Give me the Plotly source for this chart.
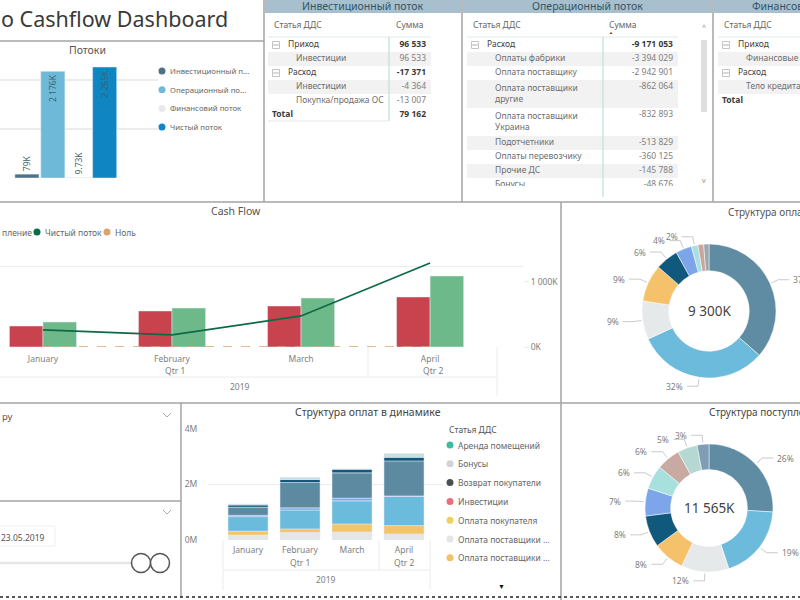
import numpy as np
import plotly.graph_objects as go

W, H = 800, 600
FONT = "Noto Sans"
GRID = "#ececec"
BORDER = "#a3a3a3"
DIV = "#ececec"
TXT = "#666666"

# Потоки
flow_names = ["Инвестиционный п...", "Операционный по...", "Финансовий поток", "Чистый поток"]
flow_values = [79, 2176, 9.73, 2265]
flow_labels = ["79K", "2 176K", "9.73K", "2 265K"]
flow_colors = ["#4f7288", "#6fb9d8", "#e8e9ea", "#0f86c1"]

# Cash Flow
months = ["January", "February", "March", "April"]
cash_out = [262, 450, 512, 625]
cash_in = [312, 487, 612, 887]
cash_net = [262, 185, 477, 1292]
cash_zero = [0, 0, 0, 0]

# Структура оплат в динамике (bottom to top)
stack_grey = [0.18, 0.27, 0.29, 0.22]
stack_yellow = [0.14, 0.13, 0.29, 0.30]
stack_blue = [0.52, 0.68, 0.83, 1.05]
stack_peri = [0.05, 0.08, 0.10, 0.02]
stack_steel = [0.29, 0.91, 0.91, 1.26]
stack_navy = [0.08, 0.11, 0.13, 0.13]
stack_light = [0.04, 0.08, 0.01, 0.14]
stack_colors = ["#e4e6e7", "#f3c468", "#6bbbdd", "#7fa8e8", "#5d8aa1", "#11587d", "#c5dfe4"]
dyn_legend = ["Аренда помещений", "Бонусы", "Возврат покупатели", "Инвестиции",
              "Оплата покупателя", "Оплата поставщики ...", "Оплата поставщики ..."]
dyn_colors = ["#3fbb9e", "#cfd3d5", "#4a4f52", "#e86f7c", "#f0cf5b", "#e3e5e6", "#f0c26a"]

# donuts
pay_values = [3394, 2943, 862, 833, 514, 360, 146, 130, 118]
pay_labels = ["37%", "32%", "9%", "9%", "6%", "4%", "2%", "", ""]
pay_colors = ["#5f8ca3", "#6dbbdc", "#e6e9ea", "#f5c26b", "#11587d", "#7da6ea", "#a8dfe0", "#c8a7a0", "#9aa7ad"]
inc_values = [3007, 2197, 1388, 925, 925, 810, 694, 694, 578, 347]
inc_labels = ["26%", "19%", "12%", "8%", "8%", "7%", "6%", "6%", "5%", "3%"]
inc_colors = ["#5f8ca3", "#6dbbdc", "#e6e9ea", "#f5c26b", "#11587d", "#7da6ea", "#a8e0dd", "#c8aaa2", "#b6d8d2", "#7f9db5"]

# tables
inv_rows = ["Приход", "Инвестиции", "Расход", "Инвестиции", "Покупка/продажа ОС"]
inv_sums = ["96 533", "96 533", "-17 371", "-4 364", "-13 007"]
inv_levels = [0, 1, 0, 1, 1]
inv_lines = [1, 1, 1, 1, 1]

op_rows = ["Расход", "Оплаты фабрики", "Оплата поставщику", "Оплата поставщики<br>другие",
           "Оплата поставщики<br>Украина", "Подотчетники", "Оплаты перевозчику", "Прочие ДС", "Бонусы"]
op_sums = ["-9 171 053", "-3 394 029", "-2 942 901", "-862 064", "-832 893",
           "-513 829", "-360 125", "-145 788", "-48 676"]
op_levels = [0, 1, 1, 1, 1, 1, 1, 1, 1]
op_lines = [1, 1, 1, 2, 2, 1, 1, 1, 1]

fin_rows = ["Приход", "Финансовые", "Расход", "Тело кредита"]
fin_sums = ["", "", "", ""]
fin_levels = [0, 1, 0, 1]
fin_lines = [1, 1, 1, 1]


def X(p):
    return p / W


def Y(p):
    return 1 - p / H


fig = go.Figure()
shapes = []
notes = []


def note(x, y, text, size=8.5, color=TXT, anchor="left", **kw):
    notes.append(dict(x=X(x), y=Y(y), xref="paper", yref="paper", text=text, showarrow=False,
                      xanchor=anchor, yanchor="middle", font=dict(size=size, color=color), **kw))


def line(x0, y0, x1, y1, color=DIV, width=1, dash="solid"):
    shapes.append(dict(type="line", xref="paper", yref="paper", x0=X(x0), y0=Y(y0), x1=X(x1), y1=Y(y1),
                       line=dict(color=color, width=width, dash=dash)))


def dot(cx, cy, r, fill, stroke=None, width=0):
    shapes.append(dict(type="circle", xref="paper", yref="paper", x0=X(cx - r), y0=Y(cy - r),
                       x1=X(cx + r), y1=Y(cy + r), fillcolor=fill,
                       line=dict(color=stroke or fill, width=width)))


def legend(x, y0, step, names, colors, r=3.5, size=8.5):
    for i, (n, c) in enumerate(zip(names, colors)):
        dot(x, y0 + i * step, r, c)
        note(x + 6, y0 + i * step, n, size=size)


def add_table(n, left, right, top, bottom, col, rows, sums, levels, lines, total_row, total=None):
    # one row is 14px, the axis runs in rows and the text sits on it
    xa, ya = f"x{n}", f"y{n}"
    units = (bottom - top) / 14
    fig.layout[f"xaxis{n}"] = dict(domain=[X(left), X(right)], range=[0, right - left], visible=False, anchor=ya)
    fig.layout[f"yaxis{n}"] = dict(domain=[Y(bottom), Y(top)], range=[units, 0], visible=False, anchor=xa)
    tops = np.concatenate([[0], np.cumsum(lines)[:-1]])
    mids = tops + np.array(lines) / 2
    firsts = tops + 0.5
    for i in range(len(rows)):
        if i % 2 == 1:
            shapes.append(dict(type="rect", xref=xa, yref=ya, x0=0, x1=right - left,
                               y0=tops[i], y1=tops[i] + lines[i], fillcolor="#f2f2f2",
                               line=dict(width=0), layer="below"))
    for lev, off in [(0, 20), (1, 28)]:
        idx = [i for i, l in enumerate(levels) if l == lev]
        fig.add_scatter(x=[off] * len(idx), y=[mids[i] for i in idx], text=[rows[i] for i in idx],
                        mode="text", textposition="middle right", xaxis=xa, yaxis=ya, showlegend=False,
                        textfont=dict(size=8.5, color="#444444" if lev == 0 else "#6e6e6e"))
    idx = [i for i, l in enumerate(levels) if l == 0]
    fig.add_scatter(x=[8] * len(idx), y=[firsts[i] for i in idx], mode="markers", xaxis=xa, yaxis=ya,
                    showlegend=False, marker=dict(symbol="square-open", size=7, color="#c4c4c4", line=dict(width=1)))
    fig.add_scatter(x=[8] * len(idx), y=[firsts[i] for i in idx], mode="markers", xaxis=xa, yaxis=ya,
                    showlegend=False, marker=dict(symbol="line-ew", size=4, line=dict(width=1, color="#b0b0b0")))
    if col is not None:
        vx = col - left
        for lev, col_txt in [(0, "#3a3a3a"), (1, "#808080")]:
            idx = [i for i, l in enumerate(levels) if l == lev]
            bold = "<b>%s</b>" if lev == 0 else "%s"
            fig.add_scatter(x=[vx] * len(idx), y=[firsts[i] for i in idx], text=[bold % sums[i] for i in idx],
                            mode="text", textposition="middle left", xaxis=xa, yaxis=ya, showlegend=False,
                            textfont=dict(size=8.5, color=col_txt))
    fig.add_scatter(x=[4], y=[total_row], text=["<b>Total</b>"], mode="text", textposition="middle right",
                    xaxis=xa, yaxis=ya, showlegend=False, cliponaxis=False,
                    textfont=dict(size=8.5, color="#3a3a3a"))
    if total:
        fig.add_scatter(x=[col - left], y=[total_row], text=["<b>%s</b>" % total], mode="text",
                        textposition="middle left", xaxis=xa, yaxis=ya, showlegend=False, cliponaxis=False,
                        textfont=dict(size=8.5, color="#3a3a3a"))


def add_donut(values, labels, colors, cx, cy, r, centre):
    fig.add_pie(values=values, marker=dict(colors=colors, line=dict(color="white", width=0.5)), hole=0.6,
                sort=False, direction="clockwise", rotation=0, textinfo="none", showlegend=False,
                domain=dict(x=[X(cx - r), X(cx + r)], y=[Y(cy + r), Y(cy - r)]))
    note(cx, cy, centre, size=13.5, color="#444444", anchor="center")
    ends = np.cumsum(values) / np.sum(values)
    mids = ends - np.array(values) / np.sum(values) / 2
    for m, lab in zip(mids, labels):
        if not lab:
            continue
        a = 2 * np.pi * m
        sx, sy = cx + (r + 1.5) * np.sin(a), cy - (r + 1.5) * np.cos(a)
        ex, ey = cx + (r + 9) * np.sin(a), cy - (r + 9) * np.cos(a)
        side = 1 if np.sin(a) > 0 else -1
        fx = ex + side * 11
        path = f"M {X(sx)},{Y(sy)} L {X(ex)},{Y(ey)} L {X(fx)},{Y(ey)}"
        shapes.append(dict(type="path", xref="paper", yref="paper", path=path, line=dict(color="#bdbdbd", width=0.8)))
        note(fx + side * 2, ey, lab, size=8.5, color="#808080", anchor="left" if side > 0 else "right")


# Потоки
fig.add_bar(x=list(range(4)), y=flow_values, width=0.93, marker_color=flow_colors, text=flow_labels,
            textposition=["outside", "inside", "outside", "inside"], insidetextanchor="end", textangle=-90,
            textfont=dict(size=8.5, color="#3f5f70"), cliponaxis=False, showlegend=False, xaxis="x", yaxis="y")
fig.layout.xaxis = dict(domain=[0, X(158)], range=[-1.04, 5.06], visible=False, anchor="y")
fig.layout.yaxis = dict(domain=[Y(178), Y(60)], range=[0, 2408], tickvals=[0, 1000, 2000], showticklabels=False,
                        gridcolor=GRID, gridwidth=1.5, zeroline=False, anchor="x", showline=False)

# Cash Flow
fig.add_bar(x=list(range(4)), y=cash_out, offset=-0.26, width=0.26, marker_color="#c9434f", showlegend=False,
            xaxis="x2", yaxis="y2")
fig.add_bar(x=list(range(4)), y=cash_in, offset=0, width=0.26, marker_color="#6eb98a", showlegend=False,
            xaxis="x2", yaxis="y2")
fig.add_scatter(x=list(range(4)), y=cash_net, mode="lines", line=dict(color="#0b6b45", width=1.8),
                showlegend=False, xaxis="x2", yaxis="y3")
fig.add_scatter(x=list(range(4)), y=cash_zero, mode="lines", line=dict(color="#dba46a", width=1.5, dash="dash"),
                showlegend=False, xaxis="x2", yaxis="y3", cliponaxis=False)
fig.layout.xaxis2 = dict(domain=[0, X(523)], range=[-0.333, 3.72], tickvals=list(range(4)), ticktext=months,
                         showgrid=False, zeroline=False, ticks="outside", ticklen=4, tickcolor="rgba(0,0,0,0)",
                         anchor="y2", tickfont=dict(size=8.5, color="#808080"))
fig.layout.yaxis2 = dict(domain=[Y(347), Y(240)], range=[0, 1337], tickvals=[0, 1000], showticklabels=False,
                         gridcolor=GRID, zeroline=False, anchor="x2")
fig.layout.yaxis3 = dict(domain=[Y(347), Y(240)], range=[0, 1646], tickvals=[0, 1000], ticktext=["0K", "1 000K"],
                         overlaying="y2", side="right", anchor="x2", showgrid=False, zeroline=False,
                         ticks="outside", ticklen=5, tickcolor="#eeeeee", tickfont=dict(size=8.5, color="#808080"))

# Структура оплат в динамике
stack = [stack_grey, stack_yellow, stack_blue, stack_peri, stack_steel, stack_navy, stack_light]
base = np.zeros(4)
for vals, c in zip(stack, stack_colors):
    fig.add_bar(x=list(range(4)), y=vals, base=base.tolist(), width=0.77, marker_color=c, showlegend=False,
                xaxis="x4", yaxis="y4")
    base = base + np.array(vals)
fig.layout.xaxis4 = dict(domain=[X(208), X(443)], range=[-0.77, 3.75], tickvals=list(range(4)), ticktext=months,
                         showgrid=False, zeroline=False, ticks="outside", ticklen=2, tickcolor="rgba(0,0,0,0)",
                         anchor="y4", tickfont=dict(size=8.5, color="#808080"))
fig.layout.yaxis4 = dict(domain=[Y(540), Y(429)], range=[0, 4], tickvals=[0, 2, 4], ticktext=["0M", "2M", "4M"],
                         gridcolor=GRID, zeroline=False, anchor="x4", ticks="outside", ticklen=8,
                         tickcolor="rgba(0,0,0,0)", tickfont=dict(size=8.5, color="#808080"))

# tables
add_table(5, 268, 431, 38, 122, 426, inv_rows, inv_sums, inv_levels, inv_lines, 5.5, "79 162")
add_table(6, 467, 678, 38, 186, 673, op_rows, op_sums, op_levels, op_lines, 11, "2 176 016")
add_table(7, 718, 800, 38, 122, None, fin_rows, fin_sums, fin_levels, fin_lines, 4.5)

# donuts
add_donut(pay_values, pay_labels, pay_colors, 709, 311, 67, "9 300K")
add_donut(inc_values, inc_labels, inc_colors, 709, 508, 64, "11 565K")

# panel borders
for x0, y0, x1, y1 in [(0, 41, 264, 41), (264, 0, 264, 202), (462, 0, 462, 202), (713, 0, 713, 202),
                       (0, 202, 800, 202), (561, 202, 561, 600), (0, 403, 800, 403), (181, 403, 181, 597),
                       (0, 501, 181, 501)]:
    line(x0, y0, x1, y1, BORDER, 1.5)
line(0, 597, 800, 597, "#222222", 1.5, "dot")

# title bands
for x0, x1 in [(265, 461), (463, 712), (714, 800)]:
    shapes.append(dict(type="rect", xref="paper", yref="paper", x0=X(x0), x1=X(x1), y0=Y(13), y1=Y(0),
                       fillcolor="#a8bfcd", line=dict(width=0), layer="below"))
note(362, 6, "Инвестиционный поток", size=10.5, color="#2f5468", anchor="center")
note(587, 6, "Операционный поток", size=10.5, color="#2f5468", anchor="center")
note(750, 6, "Финансовый поток", size=10.5, color="#2f5468")

# table headers and rules
note(272, 25, "Статья ДДС")
note(394, 25, "Сумма")
note(471, 25, "Статья ДДС")
note(607, 25, "Сумма")
note(722, 25, "Статья ДДС")
line(268, 37, 431, 37, "#dcebe7")
line(389, 37, 389, 121, "#bfe0d8", 1.2)
line(268, 121, 389, 121, "#e6e6e6")
line(467, 37, 678, 37, "#dcebe7")
line(603, 37, 603, 197, "#bfe0d8", 1.2)
line(718, 37, 800, 37, "#dcebe7")
note(607, 32, "▲", size=4, color="#333333")
# scroll bar
shapes.append(dict(type="rect", xref="paper", yref="paper", x0=X(701), x1=X(707), y0=Y(112), y1=Y(40),
                   fillcolor="#dedede", line=dict(width=0)))
note(704, 27, "^", size=7, color="#888888", anchor="center")
note(704, 180, "v", size=7, color="#888888", anchor="center")

# titles
note(-1, 19, "o Cashflow Dashboard", size=21.5, color="#3a3a3a")
note(87, 50, "Потоки", size=10.5, color="#555555", anchor="center")
note(236, 211, "Cash Flow", size=10.5, color="#555555", anchor="center")
note(726, 212, "Структура оплат", size=10, color="#555555")
note(368, 412, "Структура оплат в динамике", size=10.5, color="#444444", anchor="center")
note(707, 412, "Структура поступлений", size=10, color="#444444")

# legends
legend(162, 71, 18.7, flow_names, flow_colors, size=7.8)
note(0, 232, "пление")
legend(37, 232, 0, ["Чистый поток"], ["#0b6b45"])
legend(107, 232, 0, ["Ноль"], ["#dba46a"])
note(447, 429, "Статья ДДС", size=8.5, color="#555555")
legend(450, 445, 18.8, dyn_legend, dyn_colors)
note(502, 586, "▼", size=7, color="#111111", anchor="center")

# axis levels under the monthly charts
note(175, 370, "Qtr 1", color="#808080", anchor="center")
note(433, 370, "Qtr 2", color="#808080", anchor="center")
note(240, 386, "2019", color="#808080", anchor="center")
line(368, 347, 368, 377)
line(0, 377, 497, 377)
line(497, 347, 497, 396)
note(300, 562, "Qtr 1", color="#808080", anchor="center")
note(404, 562, "Qtr 2", color="#808080", anchor="center")
note(326, 579, "2019", color="#808080", anchor="center")
line(223, 540, 223, 590)
line(430, 540, 430, 590)
line(379, 540, 379, 570)
line(223, 570, 430, 570)

# slicers
note(0, 416, "ру", size=9.5, color="#555555")
note(47, 537, "23.05.2019", size=8.5, color="#555555", anchor="right")
shapes.append(dict(type="rect", xref="paper", yref="paper", x0=X(-2), x1=X(55), y0=Y(546), y1=Y(526),
                   line=dict(color="#f0f0f0", width=1), fillcolor="white"))
line(0, 563, 131, 563, "#e6e6e6", 2.5)
dot(141, 563, 9.5, "white", "#555555", 1.5)
dot(160, 563, 9.5, "white", "#555555", 1.5)
for cy in [415, 512]:
    shapes.append(dict(type="path", xref="paper", yref="paper",
                       path=f"M {X(163)},{Y(cy - 2)} L {X(167)},{Y(cy + 2)} L {X(171)},{Y(cy - 2)}",
                       line=dict(color="#aaaaaa", width=1)))

fig.update_layout(width=W, height=H, margin=dict(l=0, r=0, t=0, b=0, autoexpand=False), autosize=False,
                  barmode="overlay", paper_bgcolor="white", plot_bgcolor="rgba(0,0,0,0)",
                  font=dict(family=FONT, size=9, color=TXT),
                  shapes=shapes, annotations=notes, showlegend=False)

fig.write_html("out.html", config={"displayModeBar": False}, post_script="document.body.style.margin='0';")
